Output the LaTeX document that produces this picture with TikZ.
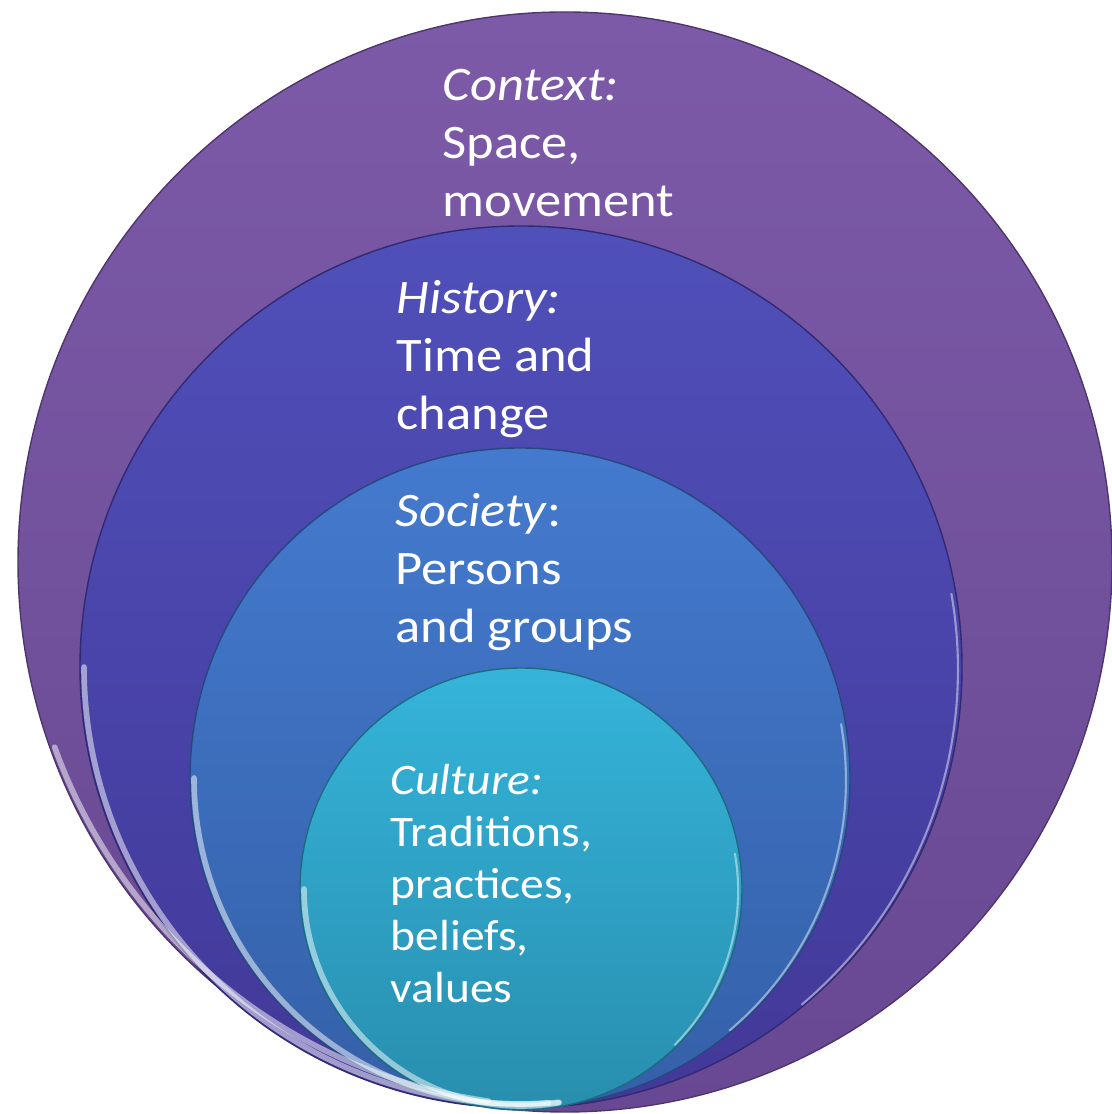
\documentclass[tikz,border=0pt]{standalone}
\usepackage{fontspec}
\setmainfont{Carlito}[FakeStretch=1.09]
\usetikzlibrary{shapes.geometric,positioning}
\definecolor{ctxtop}{RGB}{124,90,168}
\definecolor{ctxbot}{RGB}{104,72,146}
\definecolor{histop}{RGB}{80,80,186}
\definecolor{hisbot}{RGB}{66,56,152}
\definecolor{soctop}{RGB}{68,122,206}
\definecolor{socbot}{RGB}{52,96,168}
\definecolor{cultop}{RGB}{53,180,218}
\definecolor{culbot}{RGB}{40,142,174}

\begin{document}
\begin{tikzpicture}[x=0.1mm, y=0.1mm,
    ring/.style={inner sep=0pt, outer sep=0pt, draw=#1!75!black, line width=0.4pt},
    rim/.style={white, opacity=0.5, line width=1.6pt, line cap=round},
    thinrim/.style={white, opacity=0.45, line width=0.6pt},
    lbl/.style={anchor=base west, align=left, text=white, inner sep=0pt,
        font=\fontsize{13.7}{16.6}\selectfont},
    smalllbl/.style={lbl, font=\fontsize{12.4}{14.8}\selectfont}
]
    \useasboundingbox (0,0) rectangle (1111,1114);

    % nested discs, all resting on the same bottom line
    \node[ring=ctxbot, ellipse, minimum width=109.4mm, minimum height=110mm,
        top color=ctxtop, bottom color=ctxbot] (context) at (565,552) {};
    \node[ring=hisbot, circle, minimum size=88.2mm,
        top color=histop, bottom color=hisbot] (history) at (521,447) {};
    \node[ring=socbot, circle, minimum size=66mm,
        top color=soctop, bottom color=socbot] (society) at (520,336) {};
    \node[ring=culbot, circle, minimum size=44.2mm,
        top color=cultop, bottom color=culbot] (culture) at (521,225) {};

    % bevel highlights
    \draw[rim] ([shift={(4,2)}]context.200) arc[start angle=200, end angle=262, x radius=54.2mm, y radius=54.6mm];
    \draw[rim] ([shift={(4,0)}]history.180) arc[start angle=180, end angle=275, radius=43.7mm];
    \draw[thinrim] ([shift={(-3,0)}]history.-50) arc[start angle=-50, end angle=10, radius=43.8mm];
    \draw[rim] ([shift={(4,0)}]society.180) arc[start angle=180, end angle=275, radius=32.6mm];
    \draw[thinrim] ([shift={(-3,0)}]society.-50) arc[start angle=-50, end angle=10, radius=32.7mm];
    \draw[rim] ([shift={(4,0)}]culture.180) arc[start angle=180, end angle=280, radius=21.7mm];
    \draw[thinrim] ([shift={(-3,0)}]culture.-45) arc[start angle=-45, end angle=10, radius=21.8mm];

    \node[lbl] (ctxtext) at (442,897) {\textit{Context:}\\Space,\\movement};
    \node[lbl] (histext) at (396,684) {\textit{History:}\\Time and\\change};
    \node[lbl] (soctext) at (395,471) {\textit{Society}:\\Persons\\and groups};
    \node[smalllbl] (cultext) at (390,111) {\textit{Culture:}\\Traditions,\\practices,\\beliefs,\\values};
\end{tikzpicture}
\end{document}
